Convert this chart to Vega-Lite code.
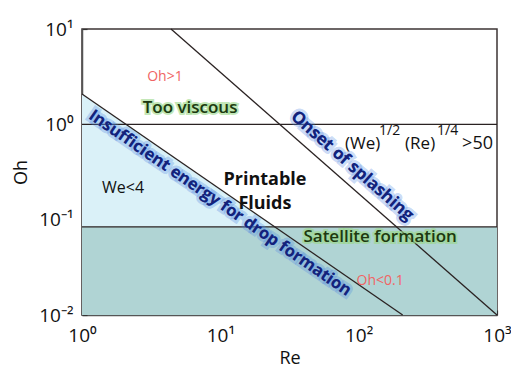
{
  "$schema": "https://vega.github.io/schema/vega-lite/v6.json",
  "width": 415,
  "height": 286,
  "autosize": {"type": "none"},
  "padding": {"left": 82, "top": 29, "right": 14, "bottom": 54},
  "background": "white",
  "config": {
    "view": {"stroke": "#3d3535", "strokeWidth": 1.5},
    "font": "Open Sans",
    "text": {"font": "Open Sans"}
  },
  "layer": [
    {
      "description": "We<4 region: below Oh = 2.08/Re, above the satellite band",
      "data": {"values": [
        {"Re": 1, "Oh": 2.08, "floor": 0.084},
        {"Re": 24.8, "Oh": 0.084, "floor": 0.084}
      ]},
      "mark": {"type": "area", "color": "#daf1f8", "clip": true},
      "encoding": {
        "x": {
          "field": "Re", "type": "quantitative",
          "scale": {"type": "log", "domain": [1, 1000], "nice": false},
          "axis": {
            "title": "Re", "titleFont": "Open Sans", "titleFontSize": 18, "titleFontWeight": "normal",
            "titleColor": "#111", "titlePadding": 4,
            "values": [1, 10, 100, 1000],
            "labelExpr": "datum.value < 5 ? '10⁰' : datum.value < 50 ? '10¹' : datum.value < 500 ? '10²' : '10³'",
            "labelFont": "Open Sans", "labelFontSize": 19, "labelColor": "#111",
            "labelFlush": false, "labelOverlap": false, "labelBound": false, "labelPadding": 16,
            "grid": false, "domainColor": "#555", "domainWidth": 1.5,
            "tickColor": "#333", "tickSize": -5, "tickWidth": 1.2
          }
        },
        "y": {
          "field": "Oh", "type": "quantitative",
          "scale": {"type": "log", "domain": [0.01, 10], "nice": false},
          "axis": {
            "title": "Oh", "titleFont": "Open Sans", "titleFontSize": 18, "titleFontWeight": "normal",
            "titleColor": "#111", "titlePadding": 8,
            "values": [0.01, 0.1, 1, 10],
            "labelExpr": "datum.value < 0.05 ? '10⁻²' : datum.value < 0.5 ? '10⁻¹' : datum.value < 5 ? '10⁰' : '10¹'",
            "labelFont": "Open Sans", "labelFontSize": 19, "labelColor": "#111",
            "labelFlush": false, "labelOverlap": false, "labelBound": false, "labelPadding": 14,
            "grid": false, "domainColor": "#555", "domainWidth": 1.5,
            "tickColor": "#333", "tickSize": -5, "tickWidth": 1.2
          }
        },
        "y2": {"field": "floor"}
      }
    },
    {
      "description": "Satellite formation band, Oh below 0.084",
      "data": {"values": [{"Re": 1, "Re2": 1000, "Oh": 0.01, "Oh2": 0.084}]},
      "mark": {"type": "rect", "color": "#b0d4d4"},
      "encoding": {
        "x": {"field": "Re", "type": "quantitative"},
        "x2": {"field": "Re2"},
        "y": {"field": "Oh", "type": "quantitative"},
        "y2": {"field": "Oh2"}
      }
    },
    {
      "description": "Regime boundaries",
      "data": {"values": [
        {"Re": 1, "Oh": 1, "Re2": 1000, "Oh2": 1},
        {"Re": 1, "Oh": 0.084, "Re2": 1000, "Oh2": 0.084},
        {"Re": 1, "Oh": 2.08, "Re2": 208, "Oh2": 0.01},
        {"Re": 4.4, "Oh": 10, "Re2": 1000, "Oh2": 0.01}
      ]},
      "mark": {"type": "rule", "color": "#2a2222", "strokeWidth": 1.3},
      "encoding": {
        "x": {"field": "Re", "type": "quantitative"},
        "x2": {"field": "Re2"},
        "y": {"field": "Oh", "type": "quantitative"},
        "y2": {"field": "Oh2"}
      }
    },
    {
      "data": {"values": [{"Re": 3.98, "Oh": 3.13, "label": "Oh>1"}, {"Re": 143, "Oh": 0.0227, "label": "Oh<0.1"}]},
      "mark": {"type": "text", "fontSize": 14, "color": "#f06464", "align": "center", "baseline": "middle"},
      "encoding": {
        "x": {"field": "Re", "type": "quantitative"},
        "y": {"field": "Oh", "type": "quantitative"},
        "text": {"field": "label"}
      }
    },
    {
      "data": {"values": [{"Re": 6.04, "Oh": 1.48, "label": "Too viscous"}, {"Re": 143, "Oh": 0.0656, "label": "Satellite formation"}]},
      "mark": {"type": "text", "fontSize": 17, "fontWeight": 600, "stroke": "#9ad888", "strokeWidth": 4, "strokeOpacity": 0.6, "color": "#9ad888", "align": "center", "baseline": "middle"},
      "encoding": {
        "x": {"field": "Re", "type": "quantitative"},
        "y": {"field": "Oh", "type": "quantitative"},
        "text": {"field": "label"}
      }
    },
    {
      "data": {"values": [{"Re": 6.04, "Oh": 1.48, "label": "Too viscous"}, {"Re": 143, "Oh": 0.0656, "label": "Satellite formation"}]},
      "mark": {"type": "text", "fontSize": 17, "fontWeight": 600, "color": "#1d3812", "align": "center", "baseline": "middle"},
      "encoding": {
        "x": {"field": "Re", "type": "quantitative"},
        "y": {"field": "Oh", "type": "quantitative"},
        "text": {"field": "label"}
      }
    },
    {
      "data": {"values": [{"Re": 1.98, "Oh": 0.215, "label": "We<4"}]},
      "mark": {"type": "text", "fontSize": 16, "color": "#111", "align": "center", "baseline": "middle"},
      "encoding": {
        "x": {"field": "Re", "type": "quantitative"},
        "y": {"field": "Oh", "type": "quantitative"},
        "text": {"field": "label"}
      }
    },
    {
      "data": {"values": [{"Re": 21.0, "Oh": 0.26, "label": ["Printable", "Fluids"]}]},
      "mark": {"type": "text", "fontSize": 18, "fontWeight": "bold", "color": "#111", "lineHeight": 24, "align": "center", "baseline": "middle"},
      "encoding": {
        "x": {"field": "Re", "type": "quantitative"},
        "y": {"field": "Oh", "type": "quantitative"},
        "text": {"field": "label"}
      }
    },
    {
      "description": "Blue glow behind the rotated boundary captions",
      "data": {"values": [
        {"Re": 9.95, "Oh": 0.149, "label": "Insufficient energy for drop formation", "angle": 34.6, "size": 16.5},
        {"Re": 89.6, "Oh": 0.365, "label": "Onset of splashing", "angle": 41.3, "size": 17}
      ]},
      "mark": {"type": "text", "fontWeight": "bold", "stroke": "#4f86e0", "strokeWidth": 6, "strokeOpacity": 0.3, "color": "#4f86e0", "align": "center", "baseline": "middle"},
      "encoding": {
        "x": {"field": "Re", "type": "quantitative"},
        "y": {"field": "Oh", "type": "quantitative"},
        "angle": {"field": "angle", "type": "quantitative", "scale": null},
        "size": {"field": "size", "type": "quantitative", "scale": null},
        "text": {"field": "label"}
      }
    },
    {
      "data": {"values": [
        {"Re": 9.95, "Oh": 0.149, "label": "Insufficient energy for drop formation", "angle": 34.6, "size": 16.5},
        {"Re": 89.6, "Oh": 0.365, "label": "Onset of splashing", "angle": 41.3, "size": 17}
      ]},
      "mark": {"type": "text", "fontWeight": "bold", "color": "#14227a", "align": "center", "baseline": "middle"},
      "encoding": {
        "x": {"field": "Re", "type": "quantitative"},
        "y": {"field": "Oh", "type": "quantitative"},
        "angle": {"field": "angle", "type": "quantitative", "scale": null},
        "size": {"field": "size", "type": "quantitative", "scale": null},
        "text": {"field": "label"}
      }
    },
    {
      "description": "Splashing criterion (We)^1/2 (Re)^1/4 > 50, set piece by piece",
      "data": {"values": [{"Re": 79.8, "Oh": 0.551}]},
      "encoding": {
        "x": {"field": "Re", "type": "quantitative"},
        "y": {"field": "Oh", "type": "quantitative"}
      },
      "layer": [
        {"mark": {"type": "text", "text": "(We)", "fontSize": 17, "color": "#111", "align": "left", "baseline": "alphabetic", "dx": 0}},
        {"mark": {"type": "text", "text": "1/2", "fontSize": 14, "color": "#111", "align": "left", "baseline": "alphabetic", "dx": 34, "dy": -14}},
        {"mark": {"type": "text", "text": "(Re)", "fontSize": 17, "color": "#111", "align": "left", "baseline": "alphabetic", "dx": 60}},
        {"mark": {"type": "text", "text": "1/4", "fontSize": 14, "color": "#111", "align": "left", "baseline": "alphabetic", "dx": 92, "dy": -14}},
        {"mark": {"type": "text", "text": ">50", "fontSize": 18, "color": "#111", "align": "left", "baseline": "alphabetic", "dx": 117}}
      ]
    }
  ]
}
